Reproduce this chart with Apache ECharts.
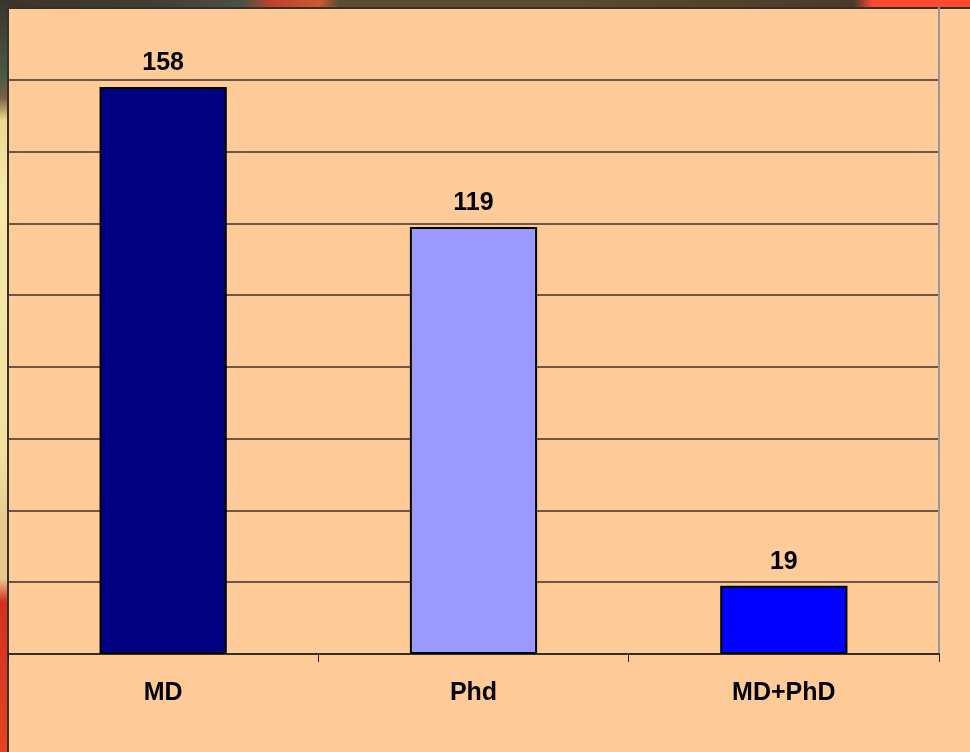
<!DOCTYPE html>
<html>
<head>
<meta charset="utf-8">
<script src="https://cdn.jsdelivr.net/npm/echarts@6/dist/echarts.min.js"></script>
<style>
  html, body { margin: 0; padding: 0; width: 970px; height: 752px; overflow: hidden; }
  body {
    position: relative;
    background: linear-gradient(to right, #3b342c 0%, #3e3c36 15%, #4a5048 25%, #c04030 28%, #c85a30 33%, #5a4c32 35%, #5a4a30 60%, #4a3a2a 88%, #ff4a30 90%, #ff4a30 100%);
  }
  #leftstrip {
    position: absolute; left: 0; top: 0; width: 8px; height: 752px;
    background: linear-gradient(to bottom, #3a332c 0%, #4a5a45 10%, #7a6040 13%, #f0d890 16%, #f5e8a8 25%, #f2e2a0 60%, #e8c890 70%, #e8c890 77%, #d83020 80%, #e84020 100%);
  }
  #peach {
    position: absolute; left: 7px; top: 7px; width: 963px; height: 745px;
    background: #FFCC99; border-left: 2px solid #333; border-top: 2px solid #333; box-sizing: border-box;
  }
  #chart { position: absolute; left: 0; top: 0; width: 970px; height: 752px; }
</style>
</head>
<body>
<div id="leftstrip"></div>
<div id="peach"></div>
<div id="chart"></div>
<script>
const categories = ['MD', 'Phd', 'MD+PhD'];
const values = [158, 119, 19];
const barColors = ['#000080', '#9999FF', '#0000FF'];

const chart = echarts.init(document.getElementById('chart'), null, { renderer: 'canvas' });
chart.setOption({
  backgroundColor: 'transparent',
  animation: false,
  grid: { left: 8, right: 31, top: 8, bottom: 98, containLabel: false },
  xAxis: {
    type: 'category',
    data: categories,
    boundaryGap: true,
    axisLine: { show: true, lineStyle: { color: '#2e2e2e', width: 2 } },
    axisTick: { show: true, alignWithLabel: false, length: 8, lineStyle: { color: '#222', width: 1 } },
    axisLabel: { margin: 27, fontSize: 25, fontWeight: 'bold', color: '#000', fontFamily: 'Liberation Sans, Arial, sans-serif' },
    splitLine: { show: false }
  },
  yAxis: [{
    type: 'value',
    min: 0, max: 180, interval: 20,
    axisLine: { show: true, lineStyle: { color: '#333', width: 2 } },
    axisTick: { show: false },
    axisLabel: { show: false },
    splitLine: { show: true, lineStyle: { color: '#3d3128', width: 1.5 } }
  }, {
    type: 'value',
    position: 'right',
    min: 0, max: 180, interval: 20,
    axisLine: { show: true, lineStyle: { color: '#999', width: 2 } },
    axisTick: { show: false },
    axisLabel: { show: false },
    splitLine: { show: false }
  }],
  series: [{
    type: 'bar',
    data: values.map((v, i) => ({ value: v, itemStyle: { color: barColors[i] } })),
    barWidth: '41%',
    itemStyle: { borderColor: '#000', borderWidth: 2 },
    label: {
      show: true, position: 'top', distance: 11,
      fontSize: 25, fontWeight: 'bold', color: '#000',
      fontFamily: 'Liberation Sans, Arial, sans-serif'
    }
  }]
});
</script>
</body>
</html>
